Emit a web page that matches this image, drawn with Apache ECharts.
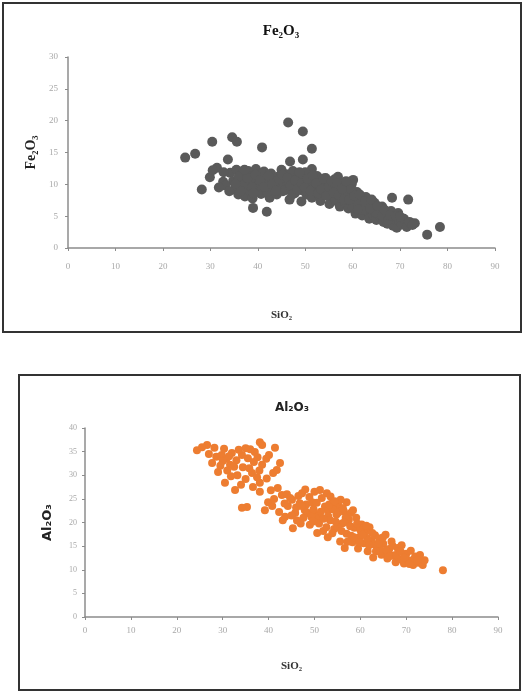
<!DOCTYPE html>
<html>
<head>
<meta charset="utf-8">
<script src="https://cdn.jsdelivr.net/npm/echarts@6/dist/echarts.min.js"></script>
<style>
  html, body { margin: 0; padding: 0; background: #fff; }
  #chart { width: 524px; height: 694px; }
</style>
</head>
<body>
<div id="chart"></div>
<script>
// axis ticks
const xTicks = [0, 90, 10]
const feTicks = [0, 30, 5]
const alTicks = [0, 40, 5]

// [SiO2, Fe2O3]
const fePoints = [
  [46.4,19.7],[49.5,18.3],[30.4,16.7],[34.6,17.4],[35.6,16.7],[24.7,14.2],[26.8,14.8],[40.9,15.8],[51.4,15.6],
  [33.7,13.9],[46.8,13.6],[49.5,13.9],[31.4,12.6],[51.4,12.4],[29.9,11.1],[28.2,9.2],[32.7,10.4],[56.9,11.2],
  [60.1,10.7],[39.0,6.3],[41.9,5.7],[68.3,7.9],[71.7,7.6],[69.6,5.5],[66.2,6.5],[73.1,3.9],[75.7,2.1],[78.4,3.3],
  [34.2,11.8],[34.8,10.5],[35.1,9.2],[35.5,12.3],[35.9,8.4],[36.2,10.9],[36.6,9.7],[36.9,11.6],[37.3,8.1],[37.6,10.2],
  [38.0,12.1],[38.3,9.0],[38.7,11.0],[38.9,7.8],[39.3,10.4],[39.6,12.4],[40.0,9.3],[40.3,11.3],[40.7,8.5],[41.0,10.0],
  [41.3,12.0],[41.8,9.1],[42.1,10.9],[42.5,7.9],[42.8,11.7],[43.2,9.6],[43.5,10.6],[44.0,8.4],[44.3,11.2],[44.6,9.9],
  [45.0,12.3],[45.3,8.9],[45.7,10.5],[46.0,11.6],[46.4,9.3],[46.7,7.6],[47.1,10.9],[47.4,12.1],[47.8,8.6],[48.1,10.0],
  [48.5,11.4],[48.9,9.1],[49.2,7.3],[49.6,10.6],[50.0,11.9],[50.3,8.4],[50.7,9.8],[51.0,11.0],[51.4,7.9],[51.8,10.2],
  [52.1,8.9],[52.5,11.3],[52.9,9.5],[53.2,7.4],[53.6,10.4],[54.0,8.6],[54.3,11.0],[54.7,9.2],[55.1,6.9],[55.4,10.0],
  [55.8,8.1],[56.2,10.8],[56.5,7.4],[56.9,9.4],[57.3,6.5],[57.6,8.7],[58.0,10.1],[58.4,7.1],[58.7,9.0],[59.1,6.2],
  [59.5,8.3],[59.8,10.0],[60.2,7.0],[60.6,5.4],[60.9,8.8],[61.3,6.6],[61.7,7.7],[62.0,5.1],[62.4,6.9],[62.8,8.0],
  [63.1,5.8],[63.5,4.6],[63.9,6.6],[64.3,5.2],[64.6,7.1],[65.0,4.4],[65.4,5.9],[65.8,4.9],[66.1,6.3],[66.5,4.1],
  [66.9,5.5],[67.3,3.8],[67.7,4.8],[68.1,5.8],[68.5,3.5],[68.9,4.5],[69.3,3.2],[69.8,4.2],[70.3,3.7],[70.8,4.6],
  [71.4,3.3],[72.0,4.1],[72.6,3.6],
  [36.0,11.2],[37.0,9.9],[38.5,10.6],[39.8,9.7],[40.9,11.7],[42.0,8.8],[43.0,11.1],[44.2,10.1],[45.5,9.6],[46.6,10.3],
  [47.6,9.4],[48.7,10.8],[49.8,8.9],[50.9,10.4],[52.0,9.7],[53.0,8.2],[54.2,9.9],[55.3,8.8],[56.4,9.5],[57.5,7.9],
  [58.9,8.2],[60.0,6.4],[61.0,7.3],[62.2,6.0],[63.3,7.0],[64.8,5.6],[66.3,5.0],[67.5,4.4],[33.2,9.8],[32.8,11.9],
  [34.0,8.9],[30.5,12.2],[31.8,9.5],
  [37.8,11.0],[38.8,9.5],[39.5,11.5],[40.5,10.6],[41.5,9.6],[42.3,11.3],[43.0,10.0],[43.8,9.0],[44.5,10.8],[45.2,11.5],
  [45.9,9.1],[46.3,11.0],[46.9,9.8],[47.3,8.4],[47.9,10.6],[48.3,9.2],[48.8,11.9],[49.3,10.1],[49.9,9.5],[50.5,10.9],
  [51.1,9.0],[51.6,11.4],[52.3,10.2],[52.7,8.6],[53.4,9.2],[53.9,10.9],[54.5,8.2],[55.0,9.6],[55.6,10.5],[56.0,8.7],
  [56.7,10.2],[57.1,8.3],[57.8,9.3],[58.2,7.6],[58.6,10.5],[59.3,7.6],[59.7,9.2],[60.4,8.2],[61.1,6.1],[61.5,8.4],
  [62.6,7.4],[63.7,6.2],[64.0,7.6],[65.2,6.6],[66.7,6.0],[67.9,5.1],[69.1,5.0],[70.0,4.9],[36.4,8.9],[37.2,12.3],
  [35.3,10.1],[39.1,8.6]
]

// [SiO2, Al2O3]
const alPoints = [
  [24.4,35.3],[26.6,36.4],[25.5,35.9],[29.8,34.3],[32.0,34.7],[34.2,34.3],[37.0,34.9],[38.6,36.4],[38.1,37.0],
  [27.7,32.6],[29.0,30.7],[31.6,32.2],[34.4,31.7],[36.4,30.5],[38.6,32.2],[41.4,35.8],[42.5,32.6],[41.0,30.5],
  [41.8,31.1],[30.5,28.4],[32.7,26.9],[35.3,23.3],[34.2,23.1],[38.1,26.5],[39.9,24.3],[39.2,22.6],[38.1,28.4],
  [28.6,33.9],[30.8,33.5],[33.0,33.2],[35.5,33.6],[36.8,32.8],[31.0,31.0],[33.2,30.0],[35.0,29.2],[37.5,29.6],
  [30.0,33.0],[32.5,31.8],[36.0,35.5],[39.5,33.5],[34.0,28.0],[36.6,27.5],
  [27.0,34.5],[28.2,35.8],[30.3,35.6],[31.4,34.0],[33.5,35.4],[35.0,35.7],[37.6,33.8],[29.5,32.0],[31.8,29.8],
  [35.8,31.5],[38.0,31.0],[40.1,34.3],[39.6,29.3],
  [40.5,26.8],[41.2,25.0],[42.0,27.3],[42.9,25.8],[43.1,20.5],[43.6,21.2],[44.2,23.5],[45.1,24.8],[45.3,18.8],
  [45.8,22.0],[46.5,25.6],[47.3,26.2],[47.6,21.0],[48.2,23.8],[48.6,22.0],[49.0,19.5],[49.5,24.3],[50.2,21.8],
  [50.8,21.2],[51.2,26.9],[51.6,25.2],[51.9,18.2],[52.3,23.4],[52.7,26.2],[52.9,22.6],[52.9,16.9],[53.4,20.5],
  [53.8,24.0],[54.3,18.6],[54.8,21.7],[55.3,23.5],[55.6,16.0],[56.0,19.8],[56.4,22.4],[56.6,14.6],[57.0,17.6],
  [57.5,20.6],[57.9,22.0],[58.3,15.8],[58.7,18.9],[59.1,21.0],[59.5,14.5],[59.9,17.0],[60.3,19.6],[60.7,15.6],
  [61.1,18.0],[61.6,13.9],[62.0,19.0],[62.4,16.2],[62.8,12.6],[63.2,17.3],[63.7,14.8],[64.1,16.6],[64.6,13.2],
  [65.0,15.5],[65.5,17.4],[65.9,12.4],[66.3,14.4],[66.8,16.0],[67.2,13.0],[67.7,11.6],[68.1,14.6],[68.6,12.2],
  [69.0,15.2],[69.5,11.3],[70.0,13.4],[70.5,12.0],[71.0,14.0],[71.5,11.0],[72.0,12.8],[72.6,11.5],[73.0,13.1],
  [73.6,11.0],[74.0,12.0],[78.0,9.9],
  [44.0,26.0],[46.0,23.2],[47.0,19.8],[49.8,22.8],[51.0,19.8],[53.0,21.3],[54.0,22.8],[55.0,19.0],[56.8,21.0],
  [58.0,17.2],[60.0,18.4],[61.5,16.6],[63.0,15.4],[64.5,14.0],[66.0,13.5],[58.4,22.6],[57.0,24.3],[55.7,24.8],
  [53.5,25.5],[50.0,26.5],[48.0,27.0],
  [45.0,21.5],[46.2,20.4],[46.8,24.1],[47.9,22.6],[48.9,25.4],[49.3,21.2],[50.5,24.2],[51.4,22.3],[52.0,20.8],
  [52.6,19.0],[53.2,23.8],[53.9,17.7],[54.6,20.2],[55.2,22.1],[55.9,18.2],[56.5,20.0],[57.2,15.9],[57.8,19.2],
  [58.6,16.9],[59.3,19.8],[59.8,15.8],[60.5,17.4],[61.3,19.3],[61.9,15.2],[62.6,17.8],[63.4,13.9],[64.0,15.6],
  [64.9,16.8],[65.7,14.2],[66.5,12.9],[67.0,15.1],[67.9,13.2],[68.8,13.8],[69.6,12.6],[70.7,11.2],[71.8,12.4],
  [72.4,12.0],[49.7,20.2],[54.4,24.5],[56.2,23.0],[50.6,17.8],[47.2,23.5],[44.7,25.2],[43.5,24.0],[42.3,22.2],
  [40.8,23.5]
]

const axisGray = '#8c8c8c'
const labelGray = '#a8a8a8'

function valueAxis (gridIndex, ticks, extra) {
  return Object.assign({
    type: 'value',
    gridIndex: gridIndex,
    min: ticks[0],
    max: ticks[1],
    interval: ticks[2],
    splitLine: { show: false },
    axisLine: { show: true, lineStyle: { color: axisGray, width: 1.5 } },
    axisTick: { show: true, length: 3, inside: false, lineStyle: { color: axisGray } },
    axisLabel: { color: labelGray, fontSize: 9, fontFamily: 'Liberation Serif' }
  }, extra)
}

const chart = echarts.init(document.getElementById('chart'))

chart.setOption({
  backgroundColor: '#fff',
  animation: false,
  title: [
    {
      text: 'Fe₂O₃', left: 276, top: 19, textAlign: 'center',
      textStyle: { fontFamily: 'Liberation Serif', fontWeight: 'bold', fontSize: 15, color: '#111' }
    },
    {
      text: 'Al₂O₃', left: 287, top: 397, textAlign: 'center',
      textStyle: { fontFamily: 'DejaVu Sans', fontWeight: 'bold', fontSize: 12, color: '#222' }
    }
  ],
  graphic: [
    { type: 'rect', shape: { x: 3, y: 3, width: 518, height: 329 }, style: { fill: 'none', stroke: '#333', lineWidth: 2 } },
    { type: 'rect', shape: { x: 19, y: 375, width: 501, height: 315 }, style: { fill: 'none', stroke: '#333', lineWidth: 2 } }
  ],
  grid: [
    { left: 68, top: 57, width: 427, height: 191 },
    { left: 85, top: 428, width: 413, height: 189 }
  ],
  xAxis: [
    valueAxis(0, xTicks, {
      name: 'SiO₂', nameLocation: 'middle', nameGap: 62,
      nameTextStyle: { fontFamily: 'Liberation Serif', fontWeight: 'bold', fontSize: 11, color: '#333' },
      axisLabel: { color: labelGray, fontSize: 9, margin: 14, fontFamily: 'Liberation Serif' }
    }),
    valueAxis(1, xTicks, {
      name: 'SiO₂', nameLocation: 'middle', nameGap: 44,
      nameTextStyle: { fontFamily: 'Liberation Serif', fontWeight: 'bold', fontSize: 11, color: '#333' },
      axisLabel: { color: labelGray, fontSize: 9, margin: 9, fontFamily: 'Liberation Serif' }
    })
  ],
  yAxis: [
    valueAxis(0, feTicks, {
      name: 'Fe₂O₃', nameLocation: 'middle', nameGap: 30,
      nameTextStyle: { fontFamily: 'Liberation Serif', fontWeight: 'bold', fontSize: 14, color: '#222' },
      axisLabel: { color: labelGray, fontSize: 9, margin: 10, fontFamily: 'Liberation Serif' }
    }),
    valueAxis(1, alTicks, {
      name: 'Al₂O₃', nameLocation: 'middle', nameGap: 31,
      nameTextStyle: { fontFamily: 'DejaVu Sans', fontWeight: 'bold', fontSize: 13, color: '#222' },
      axisLabel: { color: labelGray, fontSize: 8, margin: 8, fontFamily: 'Liberation Serif' }
    })
  ],
  series: [
    {
      type: 'scatter', xAxisIndex: 0, yAxisIndex: 0,
      data: fePoints, symbolSize: 10,
      itemStyle: { color: '#5a5a5a', opacity: 1 }
    },
    {
      type: 'scatter', xAxisIndex: 1, yAxisIndex: 1,
      data: alPoints, symbolSize: 8,
      itemStyle: { color: '#ED7D31', opacity: 1 }
    }
  ]
})

window.addEventListener('resize', () => chart.resize())
</script>
</body>
</html>
